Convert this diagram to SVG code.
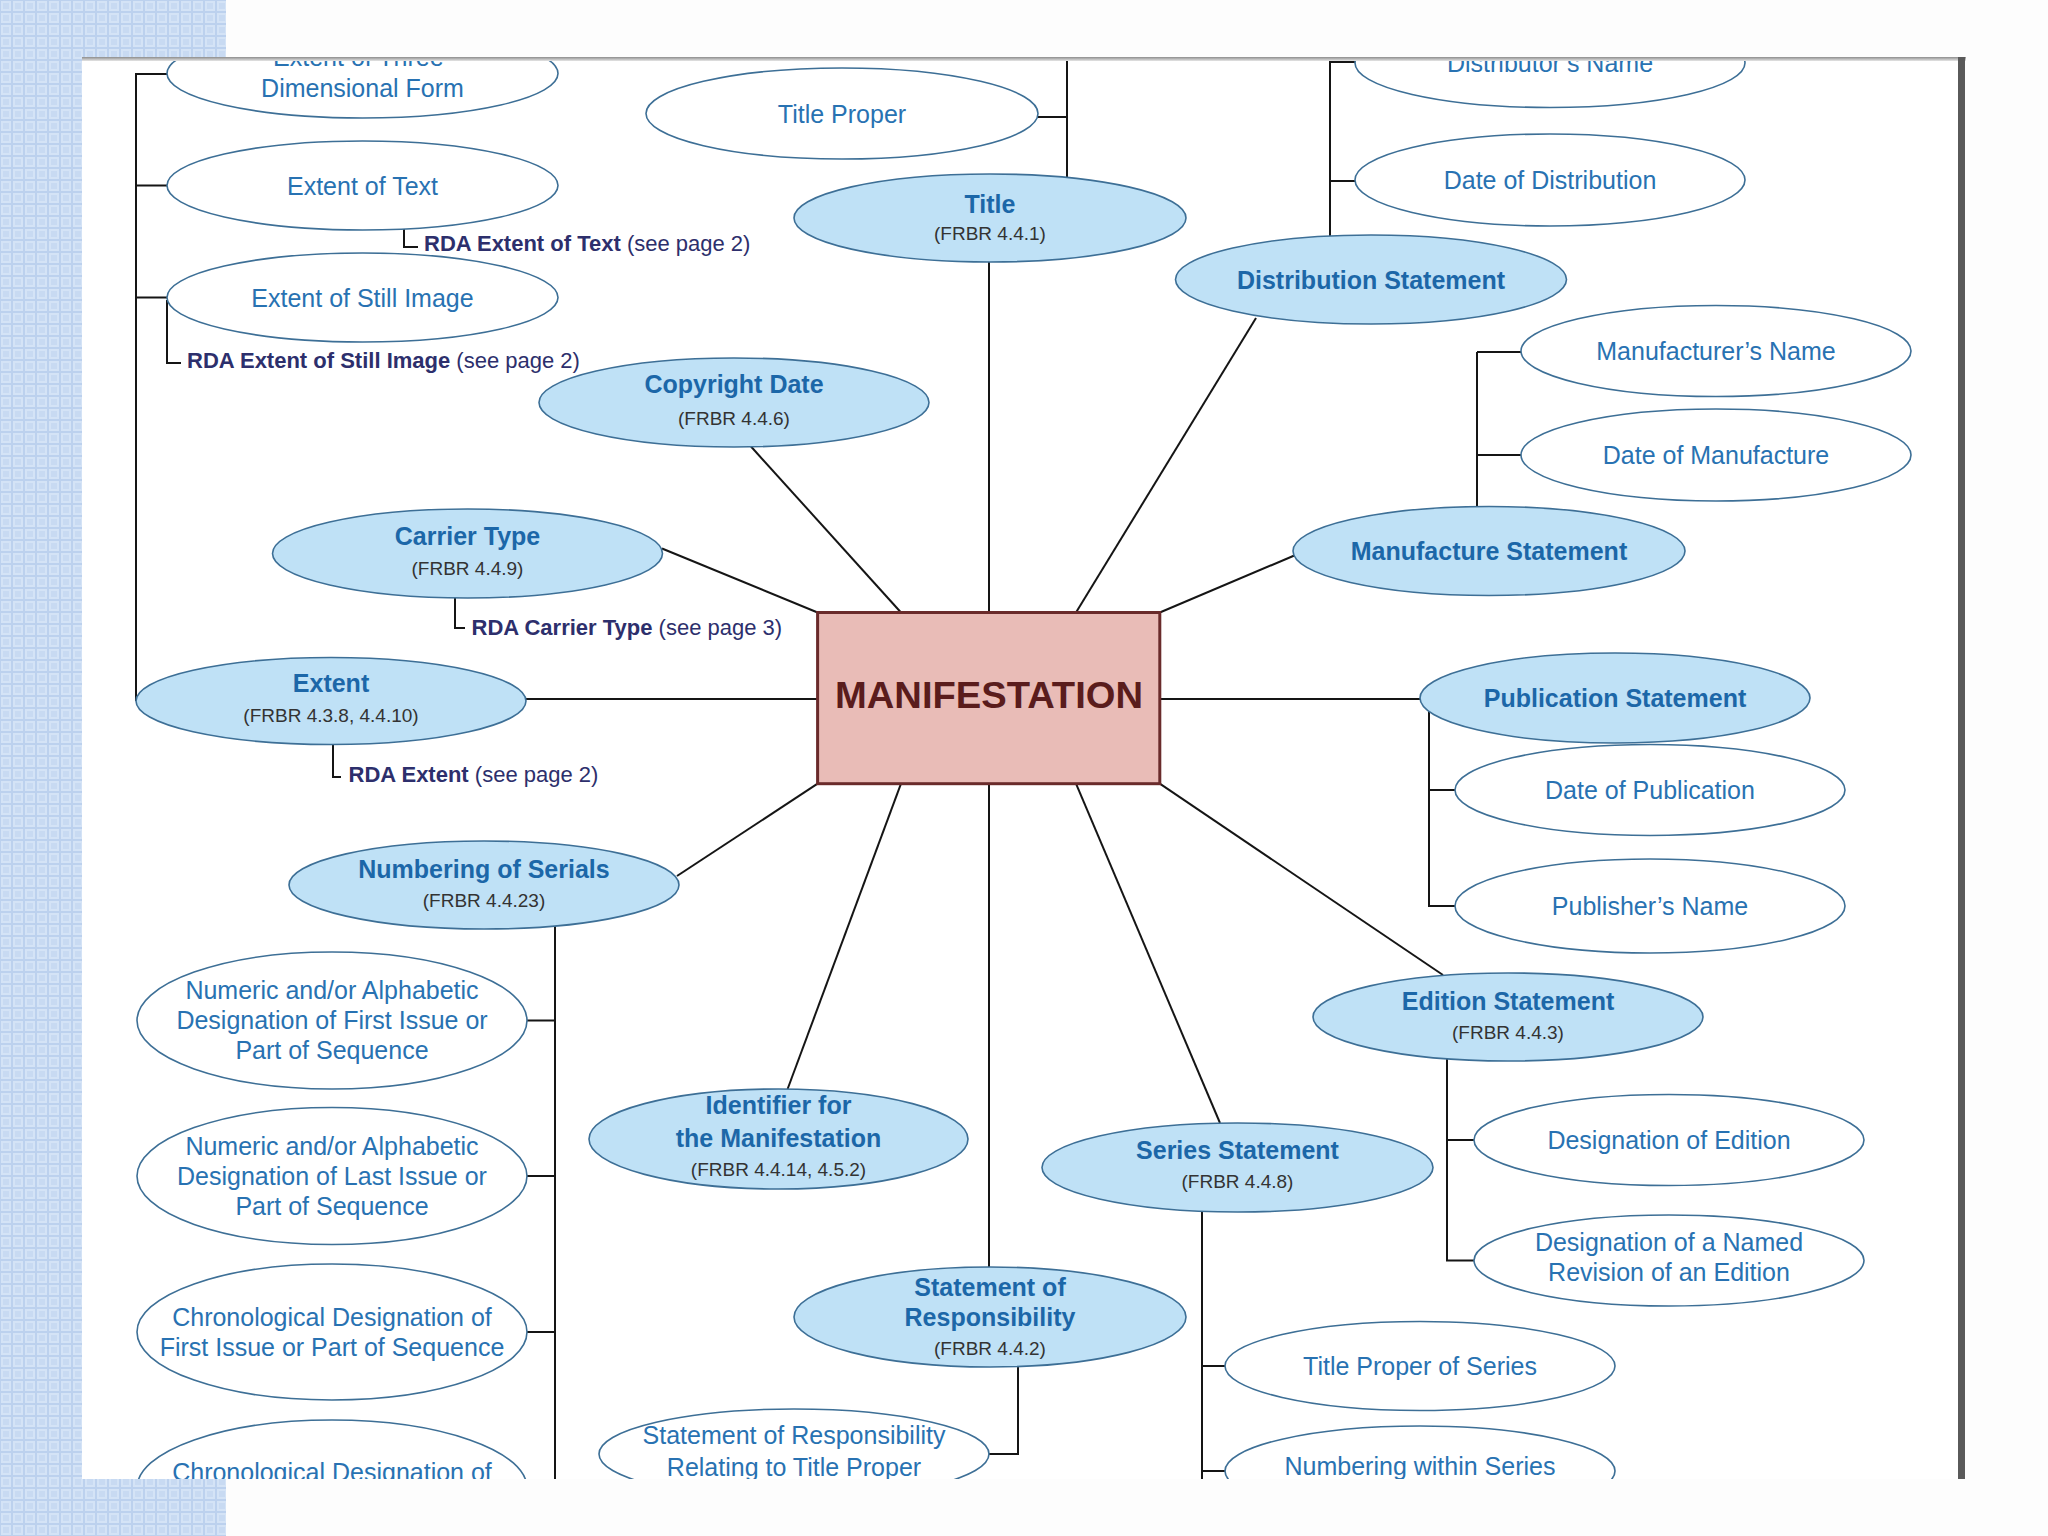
<svg xmlns="http://www.w3.org/2000/svg" width="2048" height="1536" viewBox="0 0 2048 1536">
<defs>
<pattern id="chk" x="0" y="0" width="12" height="12" patternUnits="userSpaceOnUse">
<rect width="12" height="12" fill="#bcd1ee"/>
<rect x="1" y="1" width="10" height="10" fill="#d4e3f6"/>
<rect x="3" y="3" width="6" height="6" fill="#c8daf2"/>
</pattern>
<linearGradient id="topShadow" x1="0" y1="0" x2="0" y2="1">
<stop offset="0" stop-color="#8d8d8d"/>
<stop offset="1" stop-color="#e6e6e6"/>
</linearGradient>
<clipPath id="page"><rect x="82" y="59" width="1876" height="1420"/></clipPath>
<style>
.fe{fill:#bfe1f6;stroke:#3d6f96;stroke-width:1.6}
.we{fill:#ffffff;stroke:#3d6f96;stroke-width:1.6}
.cn{stroke:#151515;stroke-width:2;fill:none}
text{font-family:"Liberation Sans",Arial,Helvetica,sans-serif}
.lb{font-size:25px;font-weight:bold;fill:#1c67a8;text-anchor:middle}
.lt{font-size:25px;fill:#2872b2;text-anchor:middle}
.fr{font-size:19px;fill:#333333;text-anchor:middle}
.rda{font-size:22px;fill:#2d2f6c}
.rdab{font-weight:bold}
.mf{font-size:36px;font-weight:bold;fill:#5a1c1c;text-anchor:middle}
</style>
</defs>
<rect x="0" y="0" width="2048" height="1536" fill="#fdfdfd"/>
<rect x="0" y="0" width="82" height="1536" fill="url(#chk)"/>
<rect x="0" y="0" width="226" height="59" fill="url(#chk)"/>
<rect x="0" y="1479" width="226" height="57" fill="url(#chk)"/>
<rect x="82" y="59" width="1878" height="1420" fill="#ffffff"/>

<g clip-path="url(#page)">
<g id="connectors">
<line class="cn" x1="989" y1="612.5" x2="989" y2="262"/>
<line class="cn" x1="901" y1="612.5" x2="751" y2="446.5"/>
<line class="cn" x1="817.6" y1="612.5" x2="662" y2="548.5"/>
<line class="cn" x1="1076" y1="612.5" x2="1256" y2="318"/>
<line class="cn" x1="1159.8" y1="612.5" x2="1295.5" y2="555"/>
<line class="cn" x1="526" y1="699" x2="817.6" y2="699"/>
<line class="cn" x1="1159.8" y1="699" x2="1420" y2="699"/>
<line class="cn" x1="817.6" y1="783.7" x2="677" y2="876"/>
<line class="cn" x1="901" y1="783.7" x2="787.6" y2="1089"/>
<line class="cn" x1="989" y1="783.7" x2="989" y2="1267"/>
<line class="cn" x1="1076" y1="783.7" x2="1220" y2="1123"/>
<line class="cn" x1="1159.8" y1="783.7" x2="1443" y2="975"/>
<path class="cn" d="M167,74 H136 V701 M136,185.5 H167 M136,297.5 H167"/>
<path class="cn" d="M404,229 V247 H418"/>
<path class="cn" d="M167,300 V363 H181"/>
<path class="cn" d="M455,597 V628 H465"/>
<path class="cn" d="M333,744 V777 H341"/>
<path class="cn" d="M1067,50 V177.5 M1038,117 H1067"/>
<path class="cn" d="M1330,50 V236 M1330,62 H1358 M1330,181 H1356"/>
<path class="cn" d="M1477,352 V507 M1477,352 H1521 M1477,455 H1521"/>
<path class="cn" d="M1429,711 V906 H1455 M1429,790 H1455"/>
<path class="cn" d="M555,926 V1500 M526,1020.5 H555 M526,1176 H555 M526,1332 H555 M526,1488 H555"/>
<path class="cn" d="M1447,1059 V1260.5 H1474 M1447,1140 H1474"/>
<path class="cn" d="M1202,1211.5 V1500 M1202,1366 H1225 M1202,1471 H1225"/>
<path class="cn" d="M1018,1366.5 V1454 H989"/>
</g>

<g id="n-three-dim"><ellipse class="we" cx="362.5" cy="73.5" rx="195.5" ry="44.5"/><text class="lt" x="362.5" y="66">Extent of Three-</text><text class="lt" x="362.5" y="97">Dimensional Form</text></g>
<g id="n-extent-text"><ellipse class="we" cx="362.5" cy="185.5" rx="195.5" ry="44.5"/><text class="lt" x="362.5" y="194.5">Extent of Text</text></g>
<g id="n-rda-extent-text"><text class="rda" x="424" y="251"><tspan class="rdab">RDA Extent of Text</tspan> (see page 2)</text></g>
<g id="n-extent-still"><ellipse class="we" cx="362.5" cy="297.5" rx="195.5" ry="44.5"/><text class="lt" x="362.5" y="306.5">Extent of Still Image</text></g>
<g id="n-rda-extent-still"><text class="rda" x="187" y="368"><tspan class="rdab">RDA Extent of Still Image</tspan> (see page 2)</text></g>
<g id="n-title-proper"><ellipse class="we" cx="842" cy="113.5" rx="196" ry="45.5"/><text class="lt" x="842" y="122.5">Title Proper</text></g>
<g id="n-title"><ellipse class="fe" cx="990" cy="218" rx="196" ry="44"/><text class="lb" x="990" y="213">Title</text><text class="fr" x="990" y="240">(FRBR 4.4.1)</text></g>
<g id="n-distributor-name"><ellipse class="we" cx="1550" cy="63" rx="195" ry="44.5"/><text class="lt" x="1550" y="72">Distributor’s Name</text></g>
<g id="n-date-distribution"><ellipse class="we" cx="1550" cy="180" rx="195" ry="46"/><text class="lt" x="1550" y="189">Date of Distribution</text></g>
<g id="n-distribution-stmt"><ellipse class="fe" cx="1371" cy="279.5" rx="195.5" ry="44.5"/><text class="lb" x="1371" y="288.5">Distribution Statement</text></g>
<g id="n-manufacturer-name"><ellipse class="we" cx="1716" cy="351" rx="195" ry="45.5"/><text class="lt" x="1716" y="360">Manufacturer’s Name</text></g>
<g id="n-date-manufacture"><ellipse class="we" cx="1716" cy="455" rx="195" ry="46"/><text class="lt" x="1716" y="464">Date of Manufacture</text></g>
<g id="n-manufacture-stmt"><ellipse class="fe" cx="1489" cy="551" rx="196" ry="44.5"/><text class="lb" x="1489" y="560">Manufacture Statement</text></g>
<g id="n-copyright"><ellipse class="fe" cx="734" cy="402.5" rx="195" ry="44.5"/><text class="lb" x="734" y="393">Copyright Date</text><text class="fr" x="734" y="424.5">(FRBR 4.4.6)</text></g>
<g id="n-carrier"><ellipse class="fe" cx="467.5" cy="553.5" rx="195" ry="44.5"/><text class="lb" x="467.5" y="544.5">Carrier Type</text><text class="fr" x="467.5" y="575">(FRBR 4.4.9)</text></g>
<g id="n-rda-carrier"><text class="rda" x="471.5" y="635"><tspan class="rdab">RDA Carrier Type</tspan> (see page 3)</text></g>
<g id="n-extent"><ellipse class="fe" cx="331" cy="701" rx="195" ry="43.5"/><text class="lb" x="331" y="692">Extent</text><text class="fr" x="331" y="721.5">(FRBR 4.3.8, 4.4.10)</text></g>
<g id="n-rda-extent"><text class="rda" x="348.5" y="782"><tspan class="rdab">RDA Extent</tspan> (see page 2)</text></g>
<g id="n-manifestation"><rect x="817.6" y="612.5" width="342.2" height="171.2" fill="#e9bcb7" stroke="#6a2b2b" stroke-width="3"/><text class="mf" x="989" y="708" textLength="308" lengthAdjust="spacingAndGlyphs">MANIFESTATION</text></g>
<g id="n-publication-stmt"><ellipse class="fe" cx="1615" cy="698" rx="195" ry="45"/><text class="lb" x="1615" y="707">Publication Statement</text></g>
<g id="n-date-publication"><ellipse class="we" cx="1650" cy="790" rx="195" ry="45.5"/><text class="lt" x="1650" y="799">Date of Publication</text></g>
<g id="n-publisher-name"><ellipse class="we" cx="1650" cy="906" rx="195" ry="47"/><text class="lt" x="1650" y="915">Publisher’s Name</text></g>
<g id="n-numbering-serials"><ellipse class="fe" cx="484" cy="885" rx="195" ry="44"/><text class="lb" x="484" y="877.5" style="font-family:'Liberation Sans',Arial,sans-serif">Numbering of Serials</text><text class="fr" x="484" y="907">(FRBR 4.4.23)</text></g>
<g id="n-edition-stmt"><ellipse class="fe" cx="1508" cy="1017" rx="195" ry="44"/><text class="lb" x="1508" y="1009.5">Edition Statement</text><text class="fr" x="1508" y="1039">(FRBR 4.4.3)</text></g>
<g id="n-num-first"><ellipse class="we" cx="332" cy="1020.5" rx="195" ry="68.5"/><text class="lt" x="332" y="999">Numeric and/or Alphabetic</text><text class="lt" x="332" y="1029">Designation of First Issue or</text><text class="lt" x="332" y="1059">Part of Sequence</text></g>
<g id="n-num-last"><ellipse class="we" cx="332" cy="1176" rx="195" ry="68.5"/><text class="lt" x="332" y="1154.5">Numeric and/or Alphabetic</text><text class="lt" x="332" y="1184.5">Designation of Last Issue or</text><text class="lt" x="332" y="1214.5">Part of Sequence</text></g>
<g id="n-chron-first"><ellipse class="we" cx="332" cy="1332" rx="195" ry="68"/><text class="lt" x="332" y="1325.5">Chronological Designation of</text><text class="lt" x="332" y="1355.5">First Issue or Part of Sequence</text></g>
<g id="n-chron-last"><ellipse class="we" cx="332" cy="1488" rx="195" ry="68"/><text class="lt" x="332" y="1481">Chronological Designation of</text></g>
<g id="n-identifier"><ellipse class="fe" cx="778.5" cy="1139" rx="189.5" ry="50"/><text class="lb" x="778.5" y="1114">Identifier for</text><text class="lb" x="778.5" y="1146.5">the Manifestation</text><text class="fr" x="778.5" y="1176">(FRBR 4.4.14, 4.5.2)</text></g>
<g id="n-series-stmt"><ellipse class="fe" cx="1237.5" cy="1167.5" rx="195.5" ry="44.5"/><text class="lb" x="1237.5" y="1158.5">Series Statement</text><text class="fr" x="1237.5" y="1188">(FRBR 4.4.8)</text></g>
<g id="n-designation-edition"><ellipse class="we" cx="1669" cy="1140" rx="195" ry="45.5"/><text class="lt" x="1669" y="1149">Designation of Edition</text></g>
<g id="n-designation-named"><ellipse class="we" cx="1669" cy="1260.5" rx="195" ry="45.5"/><text class="lt" x="1669" y="1251">Designation of a Named</text><text class="lt" x="1669" y="1281">Revision of an Edition</text></g>
<g id="n-sor"><ellipse class="fe" cx="990" cy="1317" rx="196" ry="50"/><text class="lb" x="990" y="1295.5">Statement of</text><text class="lb" x="990" y="1325.5">Responsibility</text><text class="fr" x="990" y="1355">(FRBR 4.4.2)</text></g>
<g id="n-sor-relating"><ellipse class="we" cx="794" cy="1454" rx="195" ry="45"/><text class="lt" x="794" y="1444">Statement of Responsibility</text><text class="lt" x="794" y="1475.5">Relating to Title Proper</text></g>
<g id="n-title-proper-series"><ellipse class="we" cx="1420" cy="1366" rx="195" ry="44.5"/><text class="lt" x="1420" y="1375">Title Proper of Series</text></g>
<g id="n-numbering-series"><ellipse class="we" cx="1420" cy="1471" rx="195" ry="45"/><text class="lt" x="1420" y="1474.5">Numbering within Series</text></g>
</g>

<rect x="82" y="57" width="1884" height="4" fill="url(#topShadow)"/>
<rect x="1958" y="57" width="7" height="1422" fill="#5a5a5a"/>
</svg>
